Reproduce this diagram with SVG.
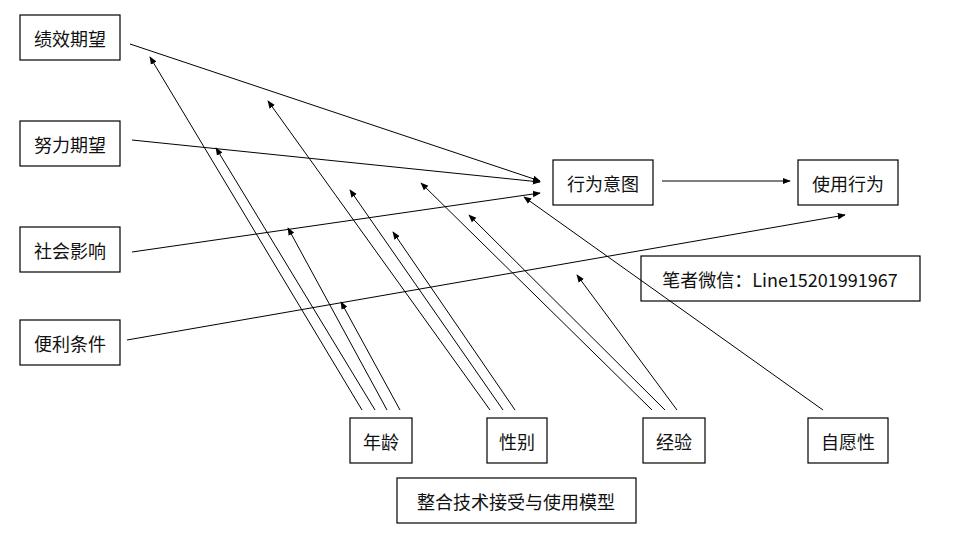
<svg xmlns="http://www.w3.org/2000/svg" width="956" height="540" viewBox="0 0 956 540">
<style>
rect{fill:#fff;stroke:#000;stroke-width:1.2}
#n7 rect{fill:none}
text{font-family:"Noto Sans CJK SC","Liberation Sans",sans-serif;font-size:18px;fill:#111;text-anchor:middle;dominant-baseline:central}
line{stroke:#000;stroke-width:1;marker-end:url(#a)}
</style>
<defs><marker id="a" viewBox="0 0 10 10" refX="9" refY="5" markerWidth="8" markerHeight="8" markerUnits="userSpaceOnUse" orient="auto"><path d="M0,1L10,5L0,9z" fill="#000"/></marker></defs>
<rect width="956" height="540" style="stroke:none"/>
<g id="connectors">
<line x1="130" y1="44" x2="540" y2="181"/>
<line x1="132" y1="140" x2="540" y2="182"/>
<line x1="132" y1="252" x2="540" y2="193"/>
<line x1="127" y1="340" x2="845" y2="215"/>
<line x1="662" y1="181" x2="790" y2="181"/>
<line x1="362" y1="410" x2="150" y2="57"/>
<line x1="375" y1="410" x2="216" y2="148"/>
<line x1="387" y1="410" x2="288" y2="228"/>
<line x1="400" y1="410" x2="341" y2="302"/>
<line x1="490" y1="410" x2="268" y2="101"/>
<line x1="503" y1="410" x2="350" y2="190"/>
<line x1="515" y1="410" x2="393" y2="232"/>
<line x1="652" y1="410" x2="421" y2="183"/>
<line x1="665" y1="410" x2="469" y2="215"/>
<line x1="677" y1="410" x2="577" y2="275"/>
<line x1="823" y1="410" x2="524" y2="197"/>
</g>
<g id="n1"><rect x="20" y="15" width="100" height="45"/><text x="70" y="38">绩效期望</text></g>
<g id="n2"><rect x="20" y="121" width="100" height="45"/><text x="70" y="144">努力期望</text></g>
<g id="n3"><rect x="20" y="227" width="100" height="45"/><text x="70" y="250">社会影响</text></g>
<g id="n4"><rect x="20" y="320" width="100" height="45"/><text x="70" y="343">便利条件</text></g>
<g id="n5"><rect x="553" y="160" width="100" height="45"/><text x="603" y="183">行为意图</text></g>
<g id="n6"><rect x="798" y="160" width="100" height="45"/><text x="848" y="183">使用行为</text></g>
<g id="n7"><rect x="641" y="256" width="279" height="45"/><text x="780" y="279">笔者微信：Line15201991967</text></g>
<g id="n8"><rect x="350" y="418" width="62" height="45"/><text x="381" y="441">年龄</text></g>
<g id="n9"><rect x="487" y="418" width="60" height="45"/><text x="517" y="441">性别</text></g>
<g id="n10"><rect x="643" y="418" width="62" height="45"/><text x="674" y="441">经验</text></g>
<g id="n11"><rect x="808" y="418" width="80" height="45"/><text x="848" y="441">自愿性</text></g>
<g id="n12"><rect x="397" y="478" width="239" height="45"/><text x="516" y="501">整合技术接受与使用模型</text></g>
</svg>
